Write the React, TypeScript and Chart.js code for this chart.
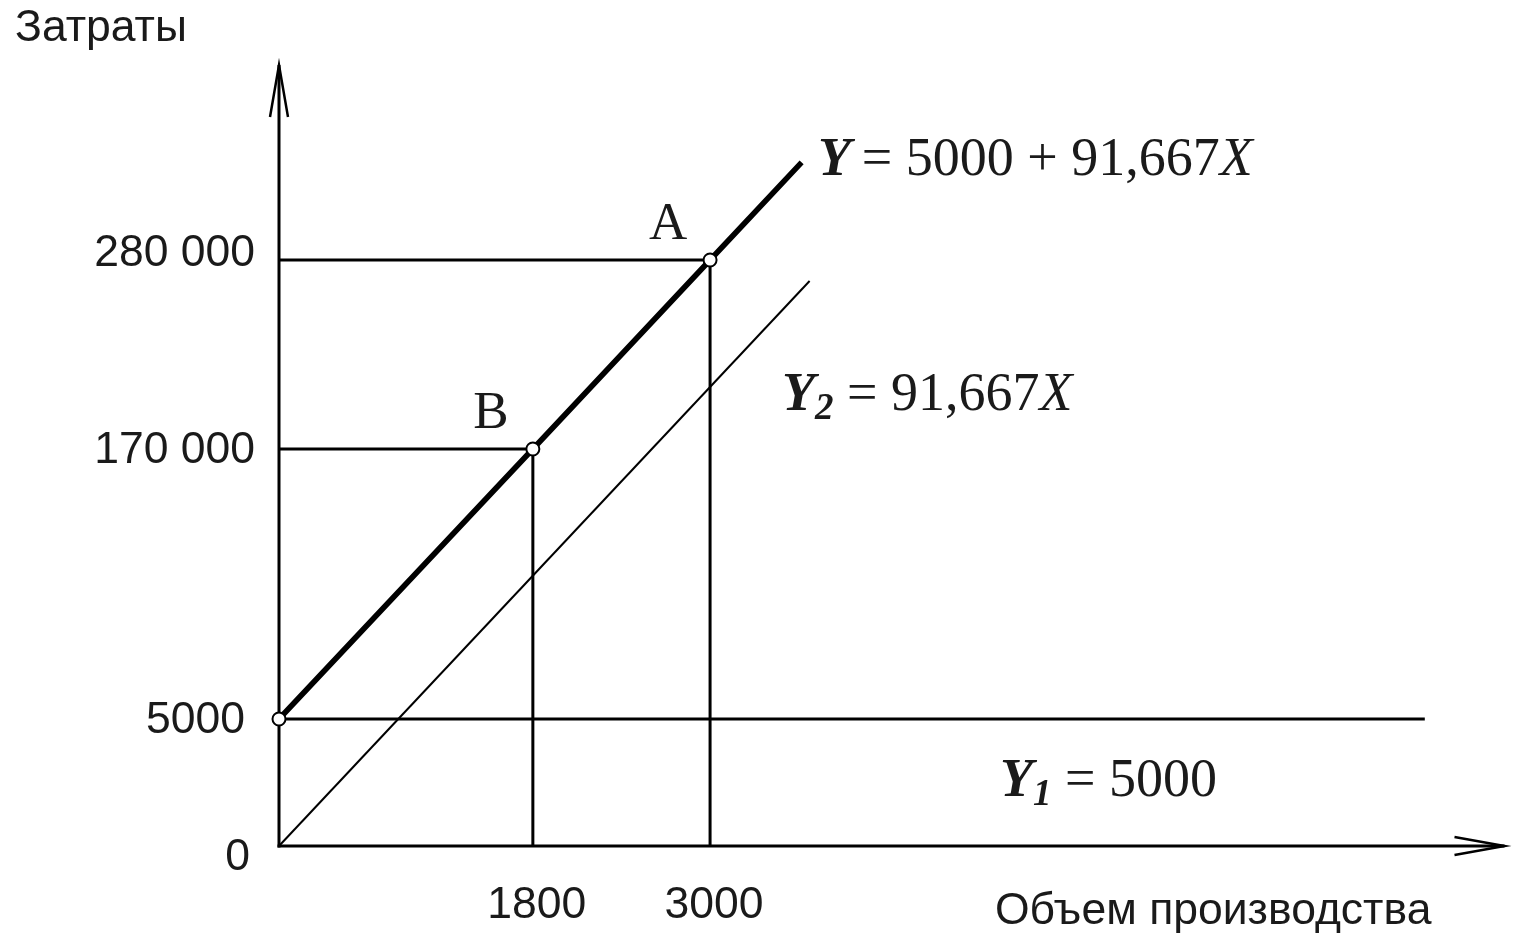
import React, { useEffect, useRef } from "react";
import { Chart, registerables, LinearScale } from "chart.js";

// ---- data ----
const MAIN_X = [0, 1800, 3000, 3620];
const MAIN_Y = [5000, 170000, 280000, 336800];
const VAR_X = [0, 3674];
const VAR_Y = [0, 267800];
const FIXED_X = [0, 7840];
const FIXED_Y = [5000, 5000];
const GUIDE_A_X = [0, 3000, 3000];
const GUIDE_A_Y = [280000, 280000, 0];
const GUIDE_B_X = [0, 1800, 1800];
const GUIDE_B_Y = [170000, 170000, 0];
const MARKED_POINTS = [1, 1, 1, 0];
const Y_TICKS = [0, 5000, 170000, 280000];
const Y_TICK_LABELS = ["0", "5000", "170 000", "280 000"];
const X_TICKS = [1800, 3000];
const X_TICK_LABELS = ["1800", "3000"];
const POINT_LABELS = ["B", "A"];
const POINT_LABEL_X = [1800, 3000];
const POINT_LABEL_Y = [170000, 280000];
const Y_TITLE = "Затраты";
const X_TITLE = "Объем производства";

const SERIF = "'Liberation Serif', 'Times New Roman', serif";
const SANS = "'Liberation Sans', Arial, sans-serif";

// schematic (not-to-scale) scale: piecewise-linear between knots
class PiecewiseScale extends LinearScale {
  static id = "piecewise";
  static defaults = {};
  _toDec(v: number): number {
    const kv: number[] = (this.options as any).knotValues;
    const kd: number[] = (this.options as any).knotDecimals;
    let i = 0;
    while (i < kv.length - 2 && v > kv[i + 1]) i++;
    const t = (v - kv[i]) / (kv[i + 1] - kv[i]);
    return kd[i] + t * (kd[i + 1] - kd[i]);
  }
  _fromDec(d: number): number {
    const kv: number[] = (this.options as any).knotValues;
    const kd: number[] = (this.options as any).knotDecimals;
    let i = 0;
    while (i < kd.length - 2 && d > kd[i + 1]) i++;
    const t = (d - kd[i]) / (kd[i + 1] - kd[i]);
    return kv[i] + t * (kv[i + 1] - kv[i]);
  }
  getPixelForValue(value: any) {
    if (value === null || value === undefined || isNaN(value)) return NaN;
    return this.getPixelForDecimal(this._toDec(+value));
  }
  getValueForPixel(pixel: number) {
    return this._fromDec(this.getDecimalForPixel(pixel));
  }
}

Chart.register(...registerables, PiecewiseScale as any);

const pts = (xs: number[], ys: number[]) => xs.map((x, i) => ({ x, y: ys[i] }));

type Part = { t: string; f: string; dy?: number };
function drawRich(ctx: CanvasRenderingContext2D, x: number, y: number, parts: Part[]) {
  let cx = x;
  for (const p of parts) {
    ctx.font = p.f;
    ctx.fillText(p.t, cx, y + (p.dy || 0));
    cx += ctx.measureText(p.t).width;
  }
}

const diagramPlugin = {
  id: "diagram",
  beforeDatasetsDraw(chart: any) {
    const { ctx, chartArea, scales } = chart;
    const xs = scales.x, ys = scales.y;
    const x0 = xs.getPixelForValue(0);
    const y0 = ys.getPixelForValue(0);
    ctx.save();
    ctx.strokeStyle = "#000";
    ctx.lineWidth = 3;
    ctx.lineCap = "butt";
    // y axis
    ctx.beginPath();
    ctx.moveTo(x0, y0 + 1.5);
    ctx.lineTo(x0, chartArea.top);
    ctx.stroke();
    // x axis
    ctx.beginPath();
    ctx.moveTo(x0 - 1.5, y0);
    ctx.lineTo(chartArea.right, y0);
    ctx.stroke();
    // arrows
    ctx.lineWidth = 2.5;
    ctx.beginPath();
    ctx.moveTo(x0 - 9, chartArea.top + 52);
    ctx.lineTo(x0, chartArea.top);
    ctx.lineTo(x0 + 9, chartArea.top + 52);
    ctx.stroke();
    ctx.beginPath();
    ctx.moveTo(chartArea.right - 50, y0 - 9);
    ctx.lineTo(chartArea.right, y0);
    ctx.lineTo(chartArea.right - 50, y0 + 9);
    ctx.stroke();
    ctx.restore();
  },
  afterDraw(chart: any) {
    const { ctx, scales } = chart;
    const xs = scales.x, ys = scales.y;
    const x0 = xs.getPixelForValue(0);
    const y0 = ys.getPixelForValue(0);
    ctx.save();
    ctx.fillStyle = "#1a1a1a";
    // y tick labels
    ctx.font = `44.5px ${SANS}`;
    ctx.textAlign = "right";
    ctx.textBaseline = "middle";
    Y_TICKS.forEach((v, i) => {
      let py = ys.getPixelForValue(v);
      if (v === 0) py += 10;
      if (i === Y_TICKS.length - 1) py -= 8;
      const rx = v === 5000 ? x0 - 34 : v === 0 ? x0 - 29 : x0 - 24;
      ctx.fillText(Y_TICK_LABELS[i], rx, py + 2);
    });
    // x tick labels
    ctx.textAlign = "center";
    X_TICKS.forEach((v, i) => {
      ctx.fillText(X_TICK_LABELS[i], xs.getPixelForValue(v) + 4, y0 + 60);
    });
    // axis titles
    ctx.textAlign = "left";
    ctx.fillText(Y_TITLE, 15, 29);
    ctx.fillText(X_TITLE, 995, 912);
    // point labels
    ctx.textBaseline = "alphabetic";
    ctx.textAlign = "center";
    ctx.font = `53px ${SERIF}`;
    POINT_LABELS.forEach((l, i) => {
      const px = xs.getPixelForValue(POINT_LABEL_X[i]);
      const py = ys.getPixelForValue(POINT_LABEL_Y[i]);
      ctx.fillText(l, px - 42, py - 21);
    });
    // equations
    ctx.textAlign = "left";
    const bi = `italic bold 54px ${SERIF}`;
    const it = `italic 54px ${SERIF}`;
    const rg = `54px ${SERIF}`;
    const sub = `italic bold 37px ${SERIF}`;
    drawRich(ctx, 818, 175, [
      { t: "Y", f: bi },
      { t: "\u2009= 5000 + 91,667", f: rg },
      { t: "X", f: it },
    ]);
    drawRich(ctx, 782, 410, [
      { t: "Y", f: bi },
      { t: "2", f: sub, dy: 9 },
      { t: " = 91,667", f: rg },
      { t: "X", f: it },
    ]);
    drawRich(ctx, 1000, 796, [
      { t: "Y", f: bi },
      { t: "1", f: sub, dy: 9 },
      { t: " = 5000", f: rg },
    ]);
    ctx.restore();
  },
};

export default function App() {
  const ref = useRef<HTMLCanvasElement>(null);
  useEffect(() => {
    if (!ref.current) return;
    const lineDs = (data: any[], width: number) => ({
      data,
      showLine: true,
      borderColor: "#000",
      borderWidth: width,
      pointRadius: 0,
      fill: false,
      clip: false as any,
      tension: 0,
    });
    const chart = new Chart(ref.current, {
      type: "scatter",
      data: {
        datasets: [
          {
            ...lineDs(pts(MAIN_X, MAIN_Y), 5.5),
            pointRadius: MARKED_POINTS.map((m) => (m ? 6.5 : 0)),
            pointBackgroundColor: "#fff",
            pointBorderColor: "#000",
            pointBorderWidth: 2,
          },
          lineDs(pts(GUIDE_A_X, GUIDE_A_Y), 3),
          lineDs(pts(GUIDE_B_X, GUIDE_B_Y), 3),
          lineDs(pts(FIXED_X, FIXED_Y), 3),
          lineDs(pts(VAR_X, VAR_Y), 2),
        ] as any,
      },
      options: {
        responsive: false,
        animation: false,
        events: [],
        layout: { padding: { left: 279, right: 3, top: 65, bottom: 87 } },
        plugins: { legend: { display: false }, tooltip: { enabled: false } },
        scales: {
          x: {
            type: "piecewise" as any,
            display: false,
            min: 0,
            max: 8300,
            knotValues: [0, 1800, 3000],
            knotDecimals: [0, 0.20715, 0.35175],
            ticks: { callback: (v: any) => String(v) },
          } as any,
          y: {
            type: "piecewise" as any,
            display: false,
            min: 0,
            max: 394000,
            knotValues: [0, 5000, 170000, 280000],
            knotDecimals: [0, 0.16261, 0.50832, 0.75032],
            ticks: { callback: (v: any) => String(v) },
          } as any,
        },
      },
      plugins: [diagramPlugin],
    });
    return () => chart.destroy();
  }, []);
  return (
    <div style={{ position: "absolute", left: 0, top: 0, background: "#fff" }}>
      <canvas ref={ref} width={1513} height={933} style={{ display: "block" }} />
    </div>
  );
}
